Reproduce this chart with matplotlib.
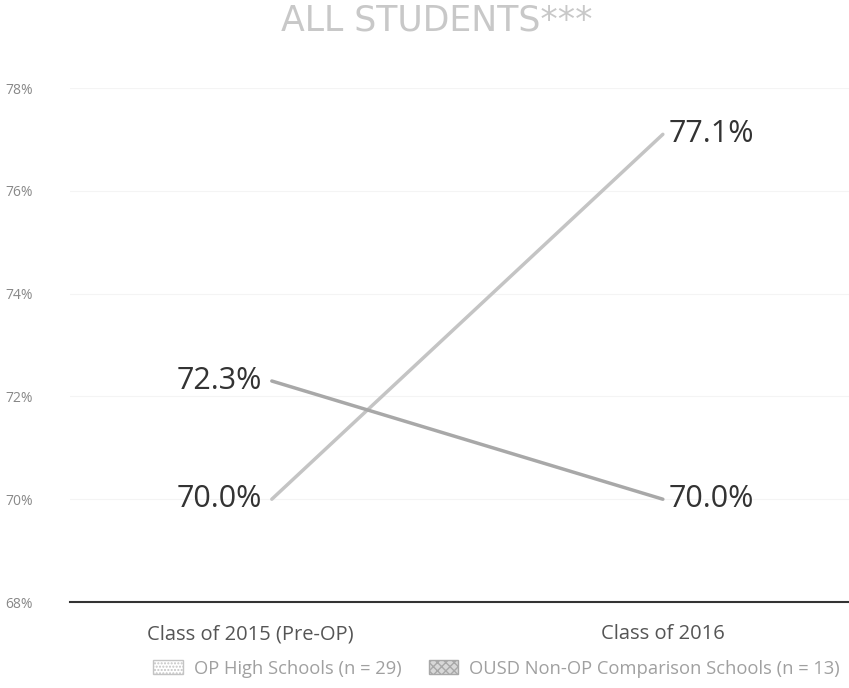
import matplotlib
matplotlib.use("Agg")
import matplotlib.pyplot as plt
import matplotlib.transforms as mtransforms
from matplotlib.patches import Patch

categories = ["Class of 2015 (Pre-OP)", "Class of 2016"]
series_names = ["OP High Schools (n = 29)", "OUSD Non-OP Comparison Schools (n = 13)"]
op_values = [70.0, 77.1]
non_op_values = [72.3, 70.0]
yticks = [68, 70, 72, 74, 76, 78]
ytick_labels = ["68%", "70%", "72%", "74%", "76%", "78%"]

colors = ["#c4c4c4", "#a8a8a8"]
plt.rcParams['font.family'] = ['Open Sans', 'DejaVu Sans']

fig = plt.figure(figsize=(8.49, 6.88), dpi=100)
ax = fig.add_axes([0.082, 0.125, 0.918, 0.747])
x = list(range(len(categories)))

ax.plot(x, op_values, color=colors[0], lw=2.5, solid_capstyle='round')
ax.plot(x, non_op_values, color=colors[1], lw=2.5, solid_capstyle='round')

ax.set_xlim(-0.517, 1.476)
ax.set_ylim(68, 78)
ax.set_yticks(yticks)
ax.set_yticklabels(ytick_labels, color="#888888", fontsize=10)
for lab in ax.get_yticklabels():
    lab.set_horizontalalignment('left')
ax.set_xticks(x)
ax.set_xticklabels(categories, color="#555555", fontsize=14.5)
ax.tick_params(length=0)
ax.tick_params(axis='y', pad=46)
ax.tick_params(axis='x', pad=16)
off = mtransforms.ScaledTranslation(-21 / 100, 0, fig.dpi_scale_trans)
xl = ax.get_xticklabels()
xl[0].set_transform(xl[0].get_transform() + off)
for s in ["top", "right", "left"]:
    ax.spines[s].set_visible(False)
ax.spines["bottom"].set_color("#333333")
ax.spines["bottom"].set_linewidth(1.5)
ax.grid(axis='y', color="#f4f4f4", lw=0.8)
ax.set_axisbelow(True)

# data labels
fs = 22
ax.annotate(f"{op_values[0]:.1f}%", (x[0], op_values[0]), xytext=(-7, 0), textcoords='offset points',
            ha='right', va='center', fontsize=fs, color="#333333")
ax.annotate(f"{op_values[1]:.1f}%", (x[1], op_values[1]), xytext=(4, 0), textcoords='offset points',
            ha='left', va='center', fontsize=fs, color="#333333")
ax.annotate(f"{non_op_values[0]:.1f}%", (x[0], non_op_values[0]), xytext=(-7, 0), textcoords='offset points',
            ha='right', va='center', fontsize=fs, color="#333333")
ax.annotate(f"{non_op_values[1]:.1f}%", (x[1], non_op_values[1]), xytext=(4, 0), textcoords='offset points',
            ha='left', va='center', fontsize=fs, color="#333333")

fig.text(0.515, 0.970, "ALL STUDENTS***", ha='center', va='center', fontsize=25,
         color="#c8c8c8", family=['DejaVu Sans'])

handles = [Patch(facecolor="white", edgecolor=colors[0], hatch='.....', label=series_names[0]),
           Patch(facecolor="#d8d8d8", edgecolor=colors[1], hatch='xxxx', label=series_names[1])]
leg = fig.legend(handles=handles, loc='center', bbox_to_anchor=(0.585, 0.028), ncol=2, frameon=False,
                 fontsize=13.2, handlelength=1.6, handleheight=0.8, columnspacing=1.5, handletextpad=0.6)
for t in leg.get_texts():
    t.set_color("#a0a0a0")

fig.savefig("out.png", dpi=100)
